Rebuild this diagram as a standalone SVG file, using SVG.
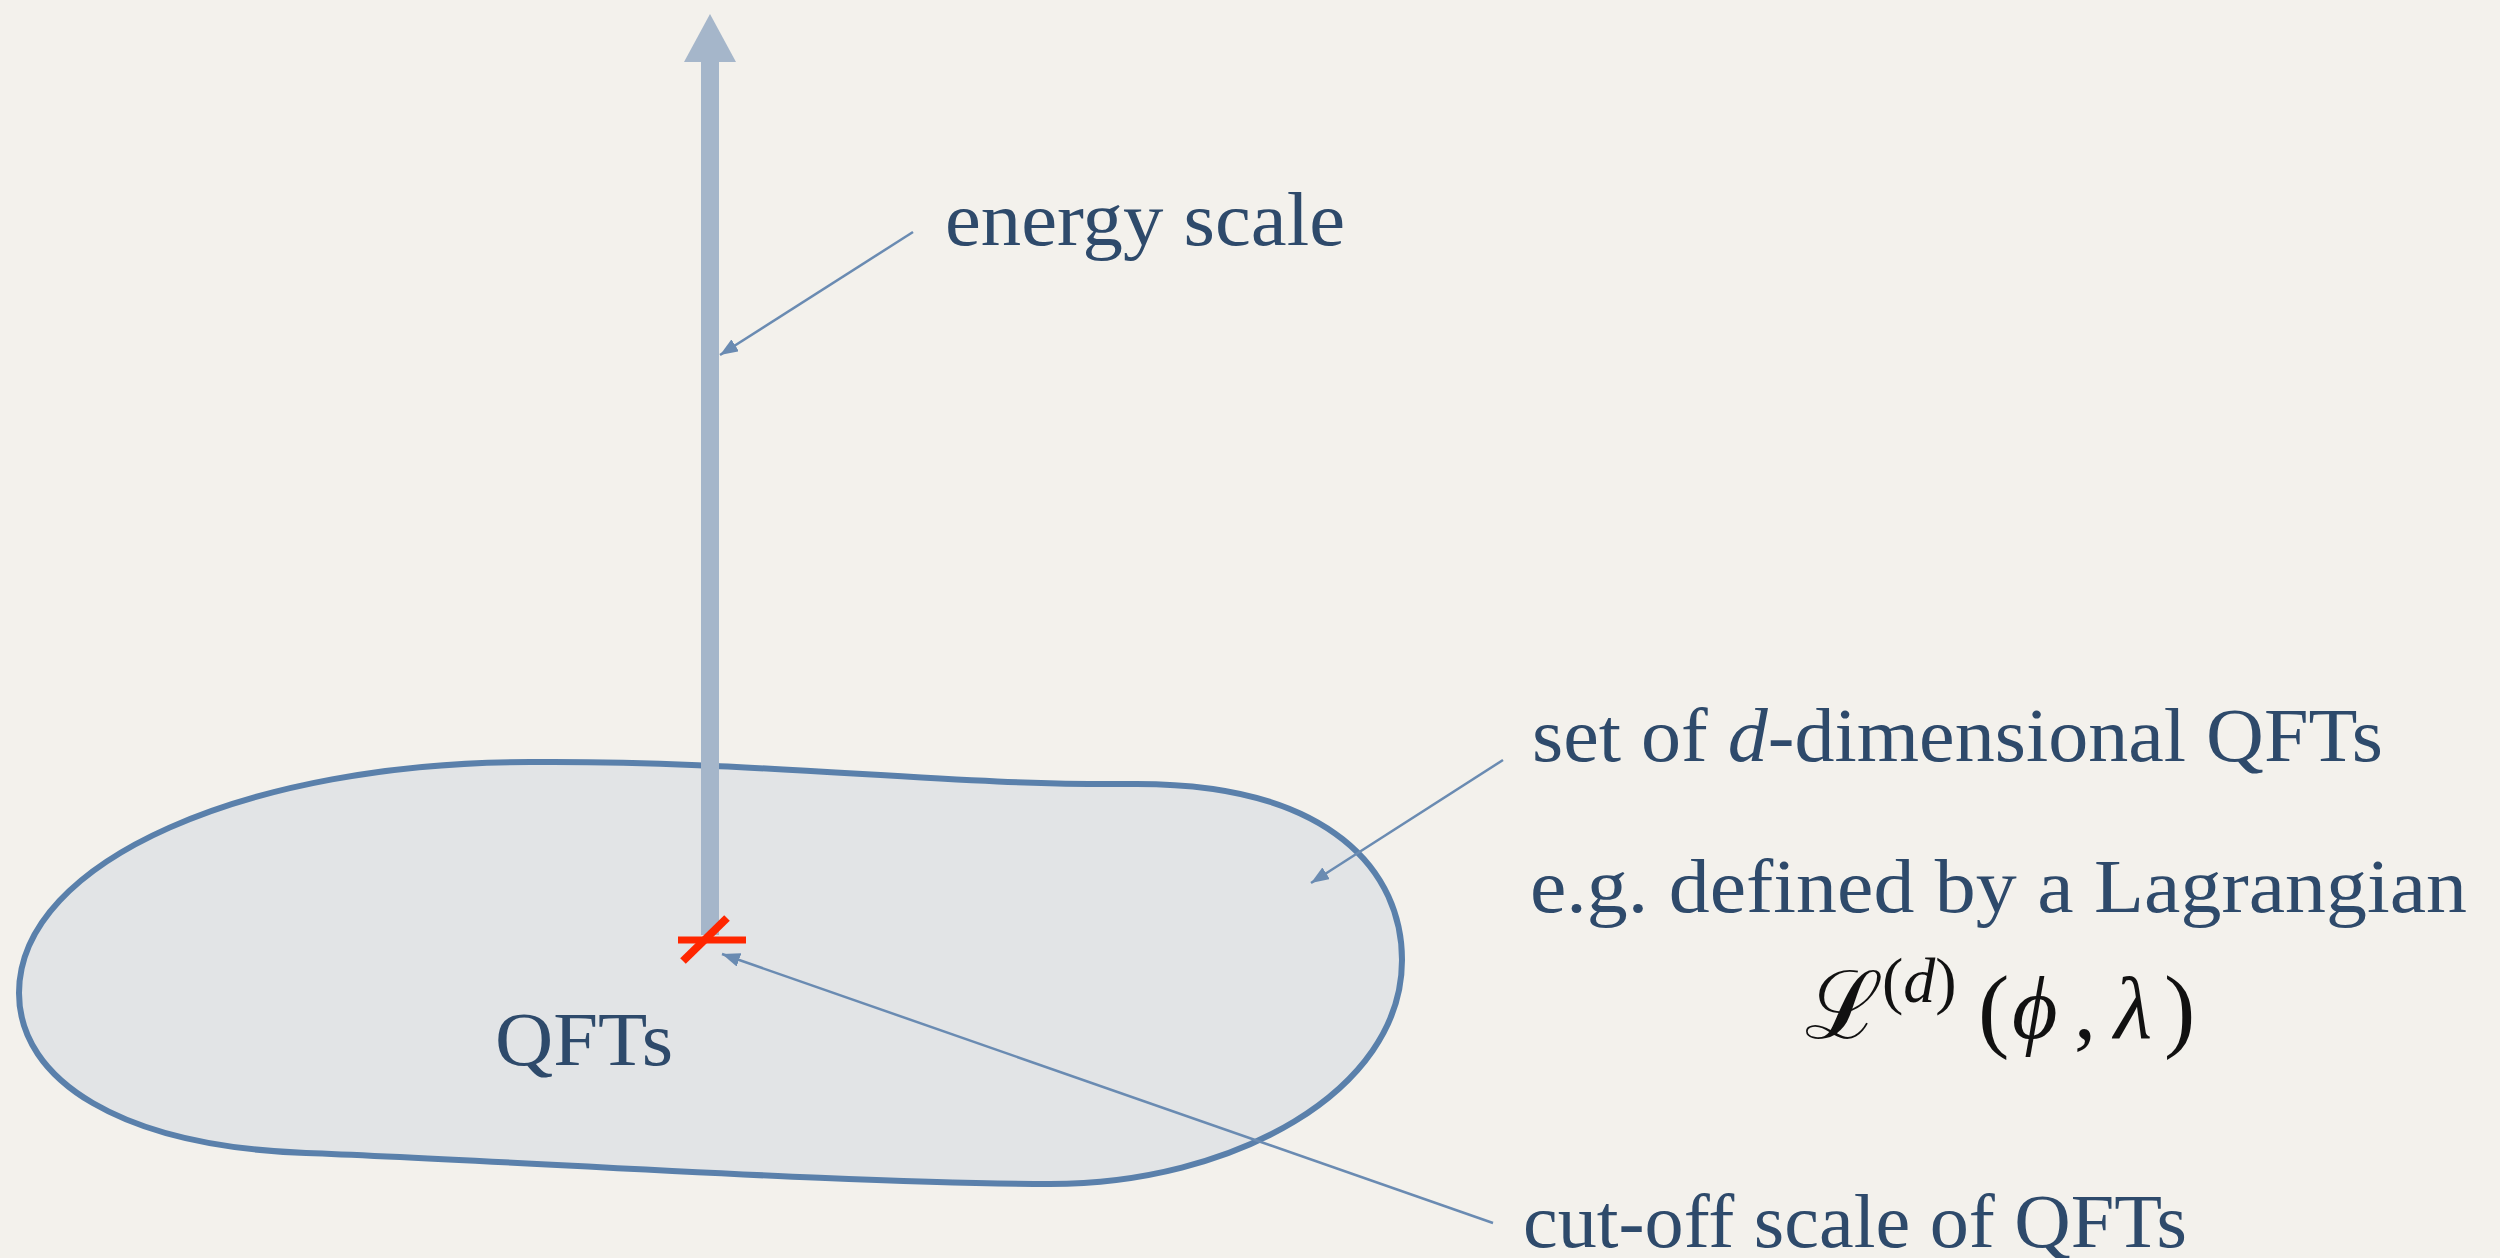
<svg xmlns="http://www.w3.org/2000/svg" width="2500" height="1258" viewBox="0 0 2500 1258">
  <style>
    .lbl { font-family: "Liberation Serif", "Times New Roman", serif; font-size: 77px; fill: #2e4a6b; }
    .conn { stroke: #6a8bb2; stroke-width: 2.5; fill: none; }
    .math { font-family: "Liberation Serif", "DejaVu Serif", serif; fill: #111; }
  </style>
  <defs>
    <marker id="ah" markerUnits="userSpaceOnUse" markerWidth="20" markerHeight="14" refX="18" refY="7" orient="auto">
      <path d="M0,0 L18,7 L0,14 Z" fill="#6a8bb2"/>
    </marker>
  </defs>
  <rect width="2500" height="1258" fill="#f3f1ec"/>

  <g id="qft-set">
    <path d="M530,762 C750,760 950,786 1130,784 C1335,782 1402,875 1402,960 C1402,1092 1232,1184 1050,1184 C850,1184 500,1160 306,1153 C120,1146 19,1080 19,993 C19,860 250,762 530,762 Z" fill="#e2e4e6" stroke="#5a80ab" stroke-width="6"/>
    <text class="lbl" x="495" y="1065" textLength="178" lengthAdjust="spacingAndGlyphs">QFTs</text>
  </g>

  <g id="energy-axis">
    <rect x="701" y="60" width="18" height="875" fill="#a5b6ca"/>
    <polygon points="710,14 684,62 736,62" fill="#a5b6ca"/>
  </g>

  <g id="cutoff-mark">
    <line x1="678" y1="940" x2="746" y2="940" stroke="#ff2600" stroke-width="7"/>
    <line x1="683" y1="961" x2="727" y2="918" stroke="#ff2600" stroke-width="8"/>
  </g>

  <g id="connectors">
    <line class="conn" x1="913" y1="232" x2="720" y2="355" marker-end="url(#ah)"/>
    <line class="conn" x1="1503" y1="760" x2="1311" y2="883" marker-end="url(#ah)"/>
    <line class="conn" x1="1493" y1="1223" x2="722" y2="954" marker-end="url(#ah)"/>
  </g>

  <g id="label-energy">
    <text class="lbl" x="945" y="245" textLength="400" lengthAdjust="spacingAndGlyphs">energy scale</text>
  </g>
  <g id="label-set">
    <text class="lbl" x="1532" y="761" textLength="851" lengthAdjust="spacingAndGlyphs">set of <tspan font-style="italic">d</tspan>-dimensional QFTs</text>
  </g>
  <g id="label-lagrangian">
    <text class="lbl" x="1530" y="912" textLength="937" lengthAdjust="spacingAndGlyphs">e.g. defined by a Lagrangian</text>
  </g>
  <g id="formula">
    <text class="math" x="1805" y="1038" font-size="94" font-family="DejaVu Serif, serif">ℒ</text>
    <text class="math" x="1882" y="1002" font-size="64">(<tspan font-style="italic">d</tspan>)</text>
    <text class="math" x="1978" y="1040" font-size="94">(</text>
    <text class="math" x="2012" y="1038" font-size="88" font-style="italic">ϕ</text>
    <text class="math" x="2074" y="1038" font-size="88">,</text>
    <text class="math" x="2114" y="1038" font-size="88" font-style="italic">λ</text>
    <text class="math" x="2164" y="1040" font-size="94">)</text>
  </g>
  <g id="label-cutoff">
    <text class="lbl" x="1523" y="1247" textLength="664" lengthAdjust="spacingAndGlyphs">cut-off scale of QFTs</text>
  </g>
</svg>
